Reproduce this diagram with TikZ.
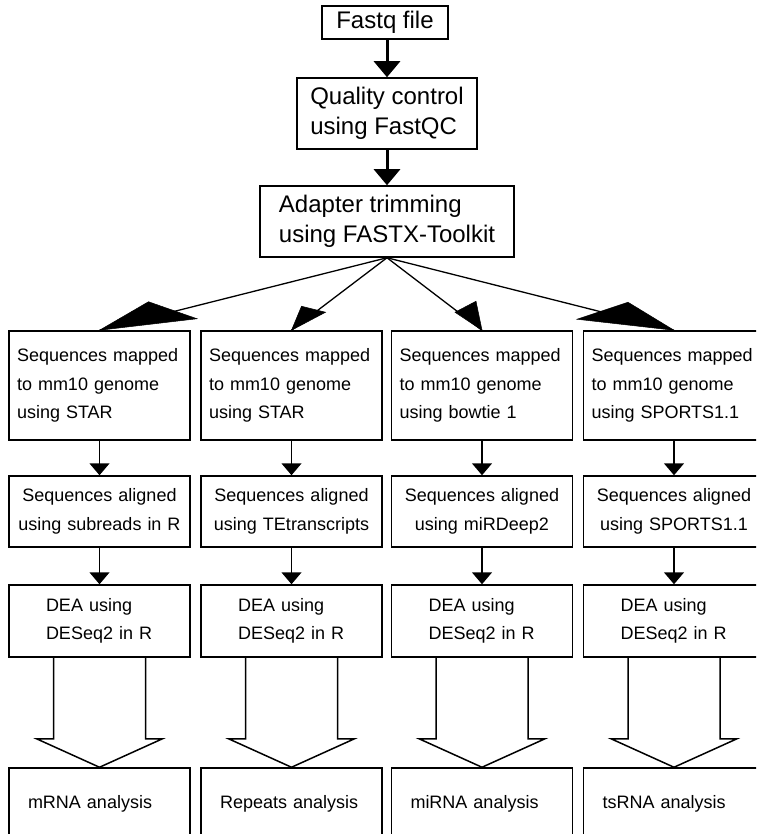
\documentclass[tikz,border=0pt]{standalone}
\usepackage{fontspec}
\setmainfont{Liberation Sans}
\usetikzlibrary{arrows.meta,calc}
\begin{document}
\begin{tikzpicture}[x=1pt,y=-1pt,
  box/.style={draw, line width=1.5pt, inner ysep=0pt, minimum width=181pt},
  big/.style={font=\fontsize{24}{30}\selectfont},
  sm/.style={font=\fontsize{18}{28.5}\selectfont},
  rowb/.style={box, sm, minimum height=109pt, inner xsep=8pt, text width=165pt, align=left},
  rowc/.style={box, sm, minimum height=71pt, inner xsep=8pt, text width=165pt, align=center},
  rowd/.style={box, sm, minimum height=72pt, inner xsep=8pt, text width=165pt, align=left},
  rowe/.style={box, sm, minimum height=72pt, inner xsep=8pt, text width=165pt, align=left},
  thickarrow/.style={line width=3pt, -{Triangle[length=16pt,width=26pt]}},
  midarrow/.style={line width=1.5pt, -{Triangle[length=12pt,width=20pt]}},
  diag/.style={line width=1.3pt},
  headfill/.style={fill=black, draw=black, line width=0.5pt, line join=miter},
  hollow/.style={line width=1.5pt, line join=miter}]
\clip (0,0) rectangle (756,834);
\fill[white] (0,0) rectangle (756,834);

% top chain
\node[box, big, minimum width=126pt, minimum height=33pt] (a1) at (385,22.5) {Fastq file};
\node[box, big, minimum width=180pt, minimum height=71pt, align=left] (a2) at (387,113.5) {Quality control\\using FastQC};
\node[box, big, minimum width=254pt, minimum height=71pt, align=left] (a3) at (387,221.5) {Adapter trimming\\using FASTX-Toolkit};

% row 1
\node[rowb] (b1) at (99.5,385.5) {Sequences mapped\\to mm10 genome\\using STAR};
\node[rowb] (b2) at (291.5,385.5) {Sequences mapped\\to mm10 genome\\using STAR};
\node[rowb] (b3) at (482,385.5) {Sequences mapped\\to mm10 genome\\using bowtie 1};
\node[rowb] (b4) at (674,385.5) {Sequences mapped\\to mm10 genome\\using SPORTS1.1};

% row 2
\node[rowc] (c1) at (99.5,511.5) {Sequences aligned\\using subreads in R};
\node[rowc] (c2) at (291.5,511.5) {Sequences aligned\\using TEtranscripts};
\node[rowc] (c3) at (482,511.5) {Sequences aligned\\using miRDeep2};
\node[rowc] (c4) at (674,511.5) {Sequences aligned\\using SPORTS1.1};

% row 3
\node[rowd] (d1) at (99.5,621) {\hspace*{29pt}DEA using\\\hspace*{29pt}DESeq2 in R};
\node[rowd] (d2) at (291.5,621) {\hspace*{29pt}DEA using\\\hspace*{29pt}DESeq2 in R};
\node[rowd] (d3) at (482,621) {\hspace*{29pt}DEA using\\\hspace*{29pt}DESeq2 in R};
\node[rowd] (d4) at (674,621) {\hspace*{29pt}DEA using\\\hspace*{29pt}DESeq2 in R};

% row 4
\node[rowe] (e1) at (99.5,804) {\hspace*{11pt}mRNA analysis};
\node[rowe] (e2) at (291.5,804) {\hspace*{11pt}Repeats analysis};
\node[rowe] (e3) at (482,804) {\hspace*{11pt}miRNA analysis};
\node[rowe] (e4) at (674,804) {\hspace*{11pt}tsRNA analysis};

% top arrows
\draw[thickarrow] (a1.south -| a2.north) -- (a2.north);
\draw[thickarrow] (a2.south) -- (a3.north);

% fan-out arrows
\draw[diag] (a3.south) -- (b1.north);
\draw[diag] (a3.south) -- (b2.north);
\draw[diag] (a3.south) -- (b3.north);
\draw[diag] (a3.south) -- (b4.north);
\filldraw[headfill] (b1.north) -- ($(b1.north)+(49,-28.5)$) -- ($(b1.north)+(97.5,-11.5)$) -- cycle;
\filldraw[headfill] (b2.north) -- ($(b2.north)+(10,-24)$) -- ($(b2.north)+(34,-18)$) -- cycle;
\filldraw[headfill] (b3.north) -- ($(b3.north)+(-27,-18)$) -- ($(b3.north)+(-6,-29)$) -- cycle;
\filldraw[headfill] (b4.north) -- ($(b4.north)+(-97,-11)$) -- ($(b4.north)+(-46,-28)$) -- cycle;

% column arrows
\foreach \i in {1,2,3,4}{
  \draw[midarrow] (b\i.south) -- (c\i.north);
  \draw[midarrow] (c\i.south) -- (d\i.north);
  \draw[hollow] ($(d\i.south)+(-46,0)$) -- ($(d\i.south)+(-46,81)$) -- ($(d\i.south)+(-63,81)$)
     -- (e\i.north) -- ($(d\i.south)+(63,81)$) -- ($(d\i.south)+(46,81)$) -- ($(d\i.south)+(46,0)$);
}
\end{tikzpicture}
\end{document}
